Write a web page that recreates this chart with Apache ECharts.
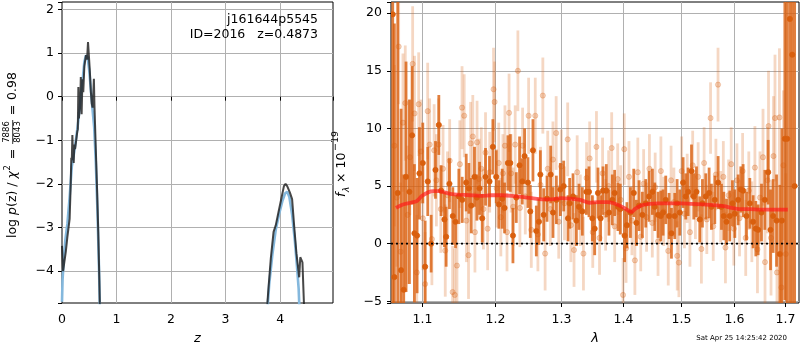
<!DOCTYPE html>
<html>
<head>
<meta charset="utf-8">
<script src="https://cdn.jsdelivr.net/npm/echarts@6/dist/echarts.min.js"></script>
<style>
  html, body { margin: 0; padding: 0; background: #fff; }
  #chart { width: 800px; height: 350px; }
</style>
</head>
<body>
<div id="chart"></div>
<script>
// ---- left panel: log p(z) ----
// [z, log p]
var pzDark1 = [[0.00,-3.42],[0.02,-4.0],[0.04,-4.0],[0.07,-3.55],[0.10,-3.2],[0.14,-2.8],[0.16,-2.0],[0.17,-1.4],
  [0.18,-1.45],[0.19,-0.88],[0.20,-1.3],[0.215,-1.52],[0.225,-1.1],[0.24,-1.2],[0.26,-1.0],[0.28,-0.8],[0.29,-0.75],
  [0.30,0.22],[0.31,-0.5],[0.32,-0.3],[0.335,-0.1],[0.345,0.45],[0.36,-0.4],[0.375,0.4],[0.39,0.1],[0.41,0.7],
  [0.44,0.95],[0.46,0.85],[0.477,1.25],[0.495,0.9],[0.51,0.6],[0.53,0.1],[0.545,-0.15],[0.56,-0.25],[0.575,0.1],
  [0.585,0.41],[0.595,-0.2],[0.62,-1.2],[0.645,-2.2],[0.665,-3.1],[0.685,-4.2],[0.70,-5.2]];
var pzDark2 = [[3.74,-5.2],[3.78,-4.5],[3.83,-3.7],[3.88,-3.1],[3.92,-2.95],[3.97,-2.65],[4.02,-2.35],[4.07,-2.05],
  [4.10,-2.0],[4.13,-2.05],[4.18,-2.2],[4.22,-2.35],[4.26,-3.0],[4.30,-3.6],[4.35,-4.14],[4.37,-3.68],[4.41,-3.8],
  [4.43,-4.5],[4.45,-5.2]];
var pzBlue1 = [[0.0,-4.7],[0.01,-4.2],[0.03,-3.8],[0.06,-3.3],[0.10,-2.9],[0.14,-2.3],[0.18,-1.6],[0.22,-1.3],
  [0.26,-0.95],[0.30,-0.55],[0.34,-0.05],[0.38,0.4],[0.41,0.8],[0.44,0.95],[0.47,0.9],[0.50,0.6],[0.53,0.15],
  [0.56,-0.3],[0.59,-0.7],[0.62,-1.5],[0.65,-2.6],[0.68,-4.0],[0.70,-5.2]];
var pzBlue2 = [[3.75,-5.2],[3.80,-4.3],[3.86,-3.6],[3.92,-3.05],[3.98,-2.7],[4.04,-2.4],[4.09,-2.22],[4.13,-2.18],
  [4.17,-2.3],[4.22,-2.7],[4.27,-3.3],[4.31,-3.9],[4.34,-4.4],[4.365,-5.2]];

// ---- right panel: spectrum ----
// [lambda, flux, err]
var specLight = [
  [1.0640,8.5,7],[1.0670,4.0,6],[1.0695,17.1,5],[1.0720,-0.7,6],[1.0750,10.5,6],[1.0780,12.2,5],[1.0810,2.5,6],
  [1.0840,7.5,5],[1.0876,15.6,5],[1.0900,11.3,5],[1.0930,-2.5,5],[1.0955,12.1,4.5],[1.0985,8.0,4.5],[1.1010,2.2,4.5],
  [1.1040,-3.5,4.5],[1.1074,11.5,4.2],[1.1100,8.6,4],[1.1130,0.4,4],[1.1160,8.1,4],[1.1190,5.5,4],[1.1220,8.6,4],
  [1.1250,3.0,3.8],[1.1280,6.5,3.8],[1.1310,-0.6,4],[1.1340,4.2,3.8],[1.1370,7.2,3.6],[1.1410,-4.2,4],[1.1440,-4.45,4],
  [1.1470,-1.9,3.8],[1.1510,6.9,3.8],[1.1540,11.8,3.6],[1.1570,11.1,3.6],[1.1600,2.0,3.6],[1.1630,-1.0,3.8],
  [1.1660,8.7,3.6],[1.1690,9.3,3.6],[1.1720,1.0,3.5],[1.1750,8.8,3.6],[1.1780,5.6,3.5],[1.1810,6.5,3.6],[1.1840,3.0,3.5],
  [1.1870,7.9,3.5],[1.1900,1.3,3.6],[1.1930,6.2,3.5],[1.1985,13.4,3.6],[1.2000,12.3,3.5],[1.2030,4.8,3.4],[1.2060,7.0,3.5],
  [1.2090,2.3,3.4],[1.2120,6.1,3.4],[1.2150,8.5,3.5],[1.2180,1.0,3.4],[1.2210,11.35,3.4],[1.2240,6.1,3.4],[1.2270,3.2,3.4],
  [1.2300,8.6,3.4],[1.2340,15.0,3.5],[1.2370,3.1,3.4],[1.2410,8.5,3.3],[1.2450,4.1,3.3],[1.2500,11.1,3.3],[1.2540,1.2,3.3],
  [1.2600,11.1,3.3],[1.2640,0.8,3.2],[1.2680,5.1,3.3],[1.2715,12.85,3.3],[1.2750,-0.86,3.2],[1.2790,6.5,3.3],[1.2830,3.0,3.2],
  [1.2870,7.3,3.3],[1.2920,9.6,3.2],[1.2960,1.9,3.2],[1.3000,6.7,3.2],[1.3050,3.5,3.2],[1.3100,9.05,3.2],[1.3150,1.6,3.2],
  [1.3200,-0.55,3.2],[1.3250,6.2,3.2],[1.3300,2.9,3.1],[1.3350,-0.86,3.2],[1.3400,5.7,3.1],[1.3450,7.4,3.2],[1.3500,1.0,3.1],
  [1.3560,8.4,3.1],[1.3610,0.5,3.2],[1.3660,6.1,3.1],[1.3710,2.5,3.1],[1.3760,5.0,3.1],[1.3810,8.3,3.1],[1.3860,1.5,3.1],
  [1.3910,5.6,3.1],[1.3960,3.8,3.0],[1.4000,-4.45,3.2],[1.4020,8.2,3.1],[1.4050,-0.4,3.0],[1.4100,5.8,3.1],[1.4150,2.0,3.0],
  [1.4200,-1.45,3.0],[1.4250,6.2,3.0],[1.4300,0.6,3.0],[1.4350,5.2,3.0],[1.4400,2.3,3.0],[1.4450,6.5,3.0],[1.4500,1.8,3.0],
  [1.4550,4.9,3.0],[1.4600,0.2,3.0],[1.4650,6.3,3.0],[1.4700,2.8,3.0],[1.4780,-0.63,3.0],[1.4830,5.5,3.0],[1.4880,3.6,3.0],
  [1.4940,-1.06,3.0],[1.4970,-1.64,3.0],[1.5020,6.3,3.0],[1.5070,2.6,3.0],[1.5120,4.8,3.0],[1.5170,1.0,3.0],[1.5220,6.8,3.0],
  [1.5270,3.4,3.0],[1.5320,5.8,3.0],[1.5380,-0.46,3.0],[1.5430,7.0,3.1],[1.5480,2.1,3.0],[1.5550,10.9,3.1],[1.5600,1.5,3.0],
  [1.5650,6.0,3.1],[1.5690,13.8,3.2],[1.5740,3.2,3.1],[1.5790,5.8,3.1],[1.5830,-0.34,3.1],[1.5890,4.2,3.1],[1.5940,6.9,3.2],
  [1.5990,1.3,3.2],[1.6050,5.5,3.2],[1.6100,2.2,3.3],[1.6160,6.3,3.3],[1.6220,0.5,3.3],[1.6280,4.6,3.4],[1.6340,1.9,3.5],
  [1.6400,6.6,3.6],[1.6450,-0.5,3.8],[1.6500,4.0,4.0],[1.6560,7.5,4.2],[1.6600,-1.6,4.4],[1.6650,5.5,4.6],[1.6670,10.2,4.8],
  [1.6720,0.5,5.0],[1.6770,7.6,5.2],[1.6800,10.9,5.5],[1.6840,-2.5,5.5],[1.6890,10.95,6.0],[1.6930,-3.8,6.0],
  [1.6970,6.8,6.5],[1.7020,-0.9,7.0]
];
var specDark = [
  [1.0619,19.9,40],[1.0640,-2.9,22],[1.0683,4.4,18],[1.0726,-2.3,14],[1.0760,-4.0,10],[1.0790,5.8,10],[1.0834,4.5,8],
  [1.0869,9.4,6],[1.0899,0.9,6],[1.0934,0.7,5],[1.0965,6.1,4],[1.1009,7.0,3.5],[1.1040,-2.0,4],[1.1075,5.4,3],
  [1.1120,0.0,2.5],[1.1178,6.4,2.5],[1.1223,10.3,2.6],[1.1254,4.6,2.2],[1.1299,2.1,2.4],[1.1322,0.6,2.6],[1.1367,5.2,2.2],
  [1.1413,2.4,2.5],[1.1450,1.9,2.3],[1.1496,4.1,2.4],[1.1542,3.8,2.0],[1.1598,5.3,2.5],[1.1635,4.8,2.2],[1.1668,3.3,2.4],
  [1.1714,5.8,2.6],[1.1747,4.0,2.0],[1.1785,4.8,2.3],[1.1823,2.2,2.1],[1.1870,5.8,2.5],[1.1927,5.4,2.2],[1.1975,8.4,2.4],
  [1.2023,5.8,2.3],[1.2062,3.4,2.1],[1.2110,3.9,2.6],[1.2144,3.1,2.2],[1.2193,7.0,2.4],[1.2228,7.0,2.5],[1.2267,0.7,2.4],
  [1.2316,4.0,2.2],[1.2365,6.8,2.5],[1.2405,5.4,2.0],[1.2440,7.6,2.4],[1.2490,5.3,2.2],[1.2525,2.8,2.3],[1.2565,8.1,2.7],
  [1.2616,1.1,2.2],[1.2656,1.9,2.0],[1.2677,6.0,2.1],[1.2728,2.5,2.3],[1.2779,3.9,2.0],[1.2835,6.0,2.5],[1.2871,2.7,2.2],
  [1.2923,3.8,2.1],[1.2985,4.7,2.3],[1.3037,5.0,2.2],[1.3105,2.2,2.0],[1.3131,3.5,2.2],[1.3184,4.1,2.0],[1.3237,2.0,2.2],
  [1.3279,3.2,2.0],[1.3332,2.8,2.1],[1.3397,4.5,2.0],[1.3439,4.5,2.2],[1.3493,2.2,2.0],[1.3531,1.3,2.3],[1.3585,4.4,2.2],
  [1.3628,2.2,2.0],[1.3667,4.6,2.1],[1.3721,4.6,2.3],[1.3765,2.7,2.0],[1.3820,3.8,2.2],[1.3859,4.4,2.0],[1.3914,3.2,2.1],
  [1.3953,3.0,2.2],[1.4026,0.7,2.3],[1.4065,1.6,2.0],[1.4124,2.7,2.2],[1.4181,4.4,2.1],[1.4226,1.8,2.0],[1.4271,3.3,2.2],
  [1.4328,2.5,2.0],[1.4386,3.5,2.1],[1.4444,4.1,2.2],[1.4502,4.5,2.0],[1.4543,3.2,2.1],[1.4601,2.5,2.0],[1.4648,2.4,2.2],
  [1.4689,2.7,2.0],[1.4736,3.8,2.1],[1.4795,2.4,2.0],[1.4837,0.9,2.2],[1.4896,2.4,2.0],[1.4938,3.5,2.1],[1.4986,2.7,2.0],
  [1.5046,5.3,2.2],[1.5094,4.1,2.0],[1.5137,4.5,2.1],[1.5198,6.3,2.3],[1.5240,4.1,2.0],[1.5289,4.5,2.2],[1.5350,2.1,2.0],
  [1.5399,3.5,2.1],[1.5461,4.1,2.0],[1.5523,4.4,2.2],[1.5566,3.2,2.0],[1.5629,3.8,2.1],[1.5692,5.3,2.3],[1.5755,3.2,2.0],
  [1.5799,2.4,2.1],[1.5850,1.9,2.0],[1.5913,2.4,2.2],[1.5964,3.5,2.0],[1.6009,2.6,2.1],[1.6073,3.8,2.2],[1.6125,4.7,2.0],
  [1.6170,4.6,2.3],[1.6235,2.4,2.1],[1.6300,3.5,2.2],[1.6365,1.9,2.3],[1.6418,1.3,2.4],[1.6464,1.2,2.2],[1.6530,2.7,2.5],
  [1.6596,3.8,2.6],[1.6663,6.2,2.8],[1.6710,1.2,3.5],[1.6763,2.4,3.2],[1.6831,2.0,4.0],[1.6898,-0.9,6.0],[1.6940,2.0,8.0],
  [1.7000,9.1,14],[1.7048,9.1,20],[1.7103,19.5,30],[1.7151,16.4,30],[1.7200,5.0,30]
];
var modelLam = [1.066,1.075,1.085,1.093,1.100,1.108,1.115,1.122,1.130,1.140,1.150,1.165,1.180,1.195,1.210,1.225,1.240,
  1.255,1.270,1.285,1.300,1.315,1.330,1.345,1.360,1.375,1.390,1.400,1.408,1.414,1.420,1.430,1.445,1.460,1.480,1.500,
  1.520,1.540,1.560,1.580,1.595,1.610,1.630,1.650,1.670,1.690,1.706];
var modelFlux = [3.1,3.4,3.55,3.7,4.15,4.45,4.55,4.55,4.45,4.3,4.25,4.2,4.15,4.2,4.2,4.15,4.05,
  3.95,3.85,3.85,3.95,3.9,3.8,3.55,3.6,3.6,3.4,3.15,2.9,2.75,3.0,3.3,3.45,3.5,3.5,3.5,
  3.45,3.4,3.35,3.25,3.1,3.0,3.0,2.95,2.95,2.95,2.95];
var lamTicks = [1.1, 1.2, 1.3, 1.4, 1.5, 1.6, 1.7];

var lamMin = 1.0597, lamMax = 1.7291;
var fluxMin = -5.15, fluxMax = 20.97;

var FONT = 'DejaVu Sans';
var ORANGE = '217,95,14';

function minusFmt(step) {
  return function (v) {
    if (Math.abs(v / step - Math.round(v / step)) > 1e-6) return '';
    return v < 0 ? '\u2212' + Math.abs(v) : '' + v;
  };
}

function errBars(barColor, dotFill, dotStroke) {
  return function (params, api) {
    var x = api.value(0), y = api.value(1), e = api.value(2);
    var c = api.coord([x, y]);
    var top = api.coord([x, y + e]);
    var bot = api.coord([x, y - e]);
    return {
      type: 'group',
      children: [
        { type: 'line', shape: { x1: c[0], y1: top[1], x2: c[0], y2: bot[1] },
          style: { stroke: barColor, lineWidth: 2.8 } },
        { type: 'circle', shape: { cx: c[0], cy: c[1], r: 2.6 },
          style: { fill: dotFill, stroke: dotStroke, lineWidth: 0.8 } }
      ]
    };
  };
}

var chart = echarts.init(document.getElementById('chart'), null, { renderer: 'canvas' });

var axisLbl = { color: '#000', fontSize: 12.5, fontFamily: FONT };
var tick = { show: true, length: 4, lineStyle: { color: '#000', width: 1 } };
var split = { show: true, showMinLine: false, showMaxLine: false, lineStyle: { color: '#b0b0b0', width: 1 } };
var txt = { fill: '#000', fontFamily: FONT };

var option = {
  animation: false,
  backgroundColor: '#fff',
  grid: [
    { left: 62, top: 2, width: 271, height: 302, show: true, borderColor: '#000', borderWidth: 1 },
    { left: 391, top: 2, width: 408, height: 302, show: true, borderColor: '#000', borderWidth: 1 }
  ],
  xAxis: [
    { type: 'value', gridIndex: 0, min: 0, max: 4.97, axisLine: { show: false },
      axisTick: tick, splitLine: split,
      axisLabel: Object.assign({ margin: 10, formatter: minusFmt(1) }, axisLbl),
      name: 'z', nameLocation: 'middle', nameGap: 29,
      nameTextStyle: { color: '#000', fontSize: 13, fontStyle: 'italic', fontFamily: FONT } },
    { type: 'log', gridIndex: 1, min: lamMin, max: lamMax, axisLine: { show: false },
      axisTick: { show: false }, axisLabel: { show: false }, splitLine: { show: false },
      name: 'λ', nameLocation: 'middle', nameGap: 29,
      nameTextStyle: { color: '#000', fontSize: 13, fontStyle: 'italic', fontFamily: FONT } }
  ],
  yAxis: [
    { type: 'value', gridIndex: 0, min: -4.73, max: 2.17, axisLine: { show: false },
      axisTick: tick, splitLine: split,
      axisLabel: Object.assign({ margin: 8, formatter: minusFmt(1) }, axisLbl) },
    { type: 'value', gridIndex: 1, min: fluxMin, max: fluxMax, axisLine: { show: false },
      axisTick: tick, splitLine: split,
      axisLabel: Object.assign({ margin: 9, formatter: minusFmt(5) }, axisLbl) }
  ],
  series: [
    { type: 'line', xAxisIndex: 0, yAxisIndex: 0, data: pzBlue1, showSymbol: false, z: 3,
      lineStyle: { color: '#84b8dd', width: 2.6 } },
    { type: 'line', xAxisIndex: 0, yAxisIndex: 0, data: pzBlue2, showSymbol: false, z: 3,
      lineStyle: { color: '#84b8dd', width: 2.6 } },
    { type: 'line', xAxisIndex: 0, yAxisIndex: 0, data: pzDark1, showSymbol: false, z: 4,
      lineStyle: { color: 'rgba(30,30,30,0.82)', width: 2 } },
    { type: 'line', xAxisIndex: 0, yAxisIndex: 0, data: pzDark2, showSymbol: false, z: 4,
      lineStyle: { color: 'rgba(30,30,30,0.82)', width: 2 } },

    // lambda grid lines, ticks and labels drawn through the log axis
    { type: 'custom', xAxisIndex: 1, yAxisIndex: 1, z: 1, clip: false, silent: true,
      data: lamTicks.map(function (v) { return [v, fluxMin]; }),
      renderItem: function (params, api) {
        var v = api.value(0);
        var b = api.coord([v, fluxMin]);
        var t = api.coord([v, fluxMax]);
        var x = Math.round(b[0]) + 0.5;
        return { type: 'group', children: [
          { type: 'line', shape: { x1: x, y1: t[1], x2: x, y2: b[1] }, style: { stroke: '#b0b0b0', lineWidth: 1 } },
          { type: 'line', shape: { x1: x, y1: b[1], x2: x, y2: b[1] + 4 }, style: { stroke: '#000', lineWidth: 1 } },
          { type: 'text', x: x, y: b[1] + 10,
            style: { text: v.toFixed(1), fill: '#000', fontSize: 12.5, fontFamily: FONT, align: 'center', verticalAlign: 'top' } }
        ] };
      } },
    { type: 'custom', xAxisIndex: 1, yAxisIndex: 1, z: 2, clip: true, silent: true,
      data: specLight,
      renderItem: errBars('rgba(' + ORANGE + ',0.25)', 'rgba(' + ORANGE + ',0.25)', 'rgba(' + ORANGE + ',0.32)') },
    { type: 'custom', xAxisIndex: 1, yAxisIndex: 1, z: 3, clip: true, silent: true,
      data: specDark,
      renderItem: errBars('rgba(' + ORANGE + ',0.8)', 'rgb(' + ORANGE + ')', 'rgb(' + ORANGE + ')') },
    { type: 'line', xAxisIndex: 1, yAxisIndex: 1, z: 5, showSymbol: false, smooth: 0.3,
      data: modelLam.map(function (l, i) { return [l, modelFlux[i]]; }),
      lineStyle: { color: 'rgba(255,25,25,0.68)', width: 3.8 } },
    { type: 'line', xAxisIndex: 1, yAxisIndex: 1, z: 6, showSymbol: false,
      data: [[lamMin, 0], [lamMax, 0]],
      lineStyle: { color: '#000', width: 1.6, type: [2, 3] } }
  ],
  graphic: [
    { type: 'text', z: 20, right: 482, top: 13, style: Object.assign({ text: 'j161644p5545', fontSize: 12.5 }, txt) },
    { type: 'text', z: 20, right: 482, top: 28, style: Object.assign({ text: 'ID=2016   z=0.4873', fontSize: 12.5 }, txt) },
    { type: 'text', z: 20, right: 13, top: 335, style: Object.assign({ text: 'Sat Apr 25 14:25:42 2020', fontSize: 7 }, txt) },
    // left y label: log p(z) / chi^2 = 7886/8043 = 0.98
    { type: 'group', z: 20, x: 17, y: 238, rotation: Math.PI / 2, children: [
      { type: 'text', x: 0, y: -4.5, style: Object.assign({ text: 'log ', fontSize: 12.5, verticalAlign: 'middle' }, txt) },
      { type: 'text', x: 23, y: -4.5, style: Object.assign({ text: 'p', fontSize: 12.5, fontStyle: 'italic', verticalAlign: 'middle' }, txt) },
      { type: 'text', x: 31, y: -4.5, style: Object.assign({ text: '(z) / ', fontSize: 12.5, verticalAlign: 'middle' }, txt) },
      { type: 'text', x: 59.5, y: -4.5, style: Object.assign({ text: 'χ', fontSize: 12.5, fontStyle: 'italic', verticalAlign: 'middle' }, txt) },
      { type: 'text', x: 67.5, y: -9.5, style: Object.assign({ text: '2', fontSize: 8.5, verticalAlign: 'middle' }, txt) },
      { type: 'text', x: 84, y: -4.5, style: Object.assign({ text: '=', fontSize: 12.5, align: 'center', verticalAlign: 'middle' }, txt) },
      { type: 'text', x: 106, y: -5.3, style: Object.assign({ text: '7886', fontSize: 8.5, align: 'center', verticalAlign: 'bottom' }, txt) },
      { type: 'line', shape: { x1: 94, y1: -4.3, x2: 118, y2: -4.3 }, style: { stroke: '#000', lineWidth: 0.8 } },
      { type: 'text', x: 106, y: -3.3, style: Object.assign({ text: '8043', fontSize: 8.5, align: 'center', verticalAlign: 'top' }, txt) },
      { type: 'text', x: 128, y: -4.5, style: Object.assign({ text: '=', fontSize: 12.5, align: 'center', verticalAlign: 'middle' }, txt) },
      { type: 'text', x: 138, y: -4.5, style: Object.assign({ text: '0.98', fontSize: 12.5, verticalAlign: 'middle' }, txt) }
    ] },
    // right y label: f_lambda x 10^-19
    { type: 'group', z: 20, x: 346, y: 197, rotation: Math.PI / 2, children: [
      { type: 'text', x: 0, y: -4.5, style: Object.assign({ text: 'f', fontSize: 12.5, fontStyle: 'italic', verticalAlign: 'middle' }, txt) },
      { type: 'text', x: 5, y: 1, style: Object.assign({ text: 'λ', fontSize: 9, fontStyle: 'italic', verticalAlign: 'middle' }, txt) },
      { type: 'text', x: 14, y: -4.5, style: Object.assign({ text: '× 10', fontSize: 12.5, verticalAlign: 'middle' }, txt) },
      { type: 'text', x: 46, y: -10, style: Object.assign({ text: '\u221219', fontSize: 9.5, verticalAlign: 'middle' }, txt) }
    ] }
  ]
};

chart.setOption(option);
</script>
</body>
</html>
